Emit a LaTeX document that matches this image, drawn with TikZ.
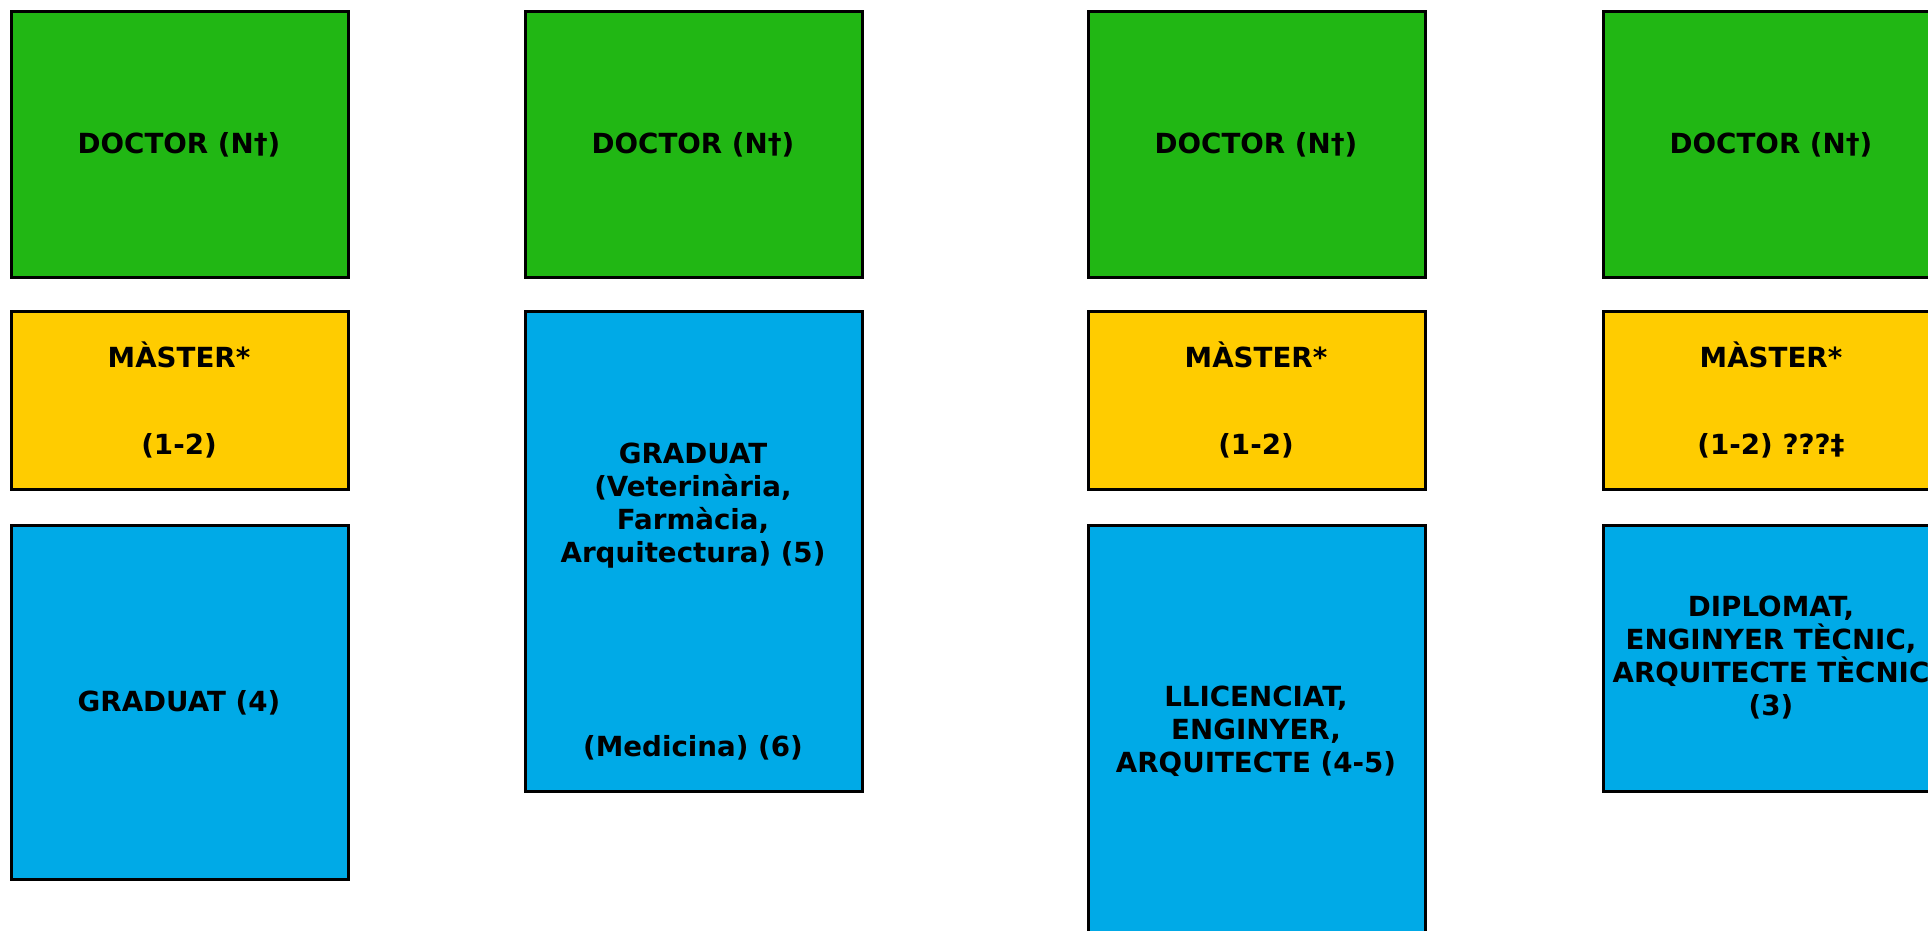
\documentclass[tikz,border=0pt]{standalone}
\usepackage{fontspec}
\setmainfont{DejaVu Sans}
\definecolor{docgreen}{RGB}{33,183,20}
\definecolor{mastyellow}{RGB}{255,204,0}
\definecolor{gradblue}{RGB}{0,170,231}
\tikzset{
  lvlbox/.style={draw=black, line width=1.5pt, anchor=north west, minimum width=168.5pt, inner sep=0pt},
  doctorbox/.style={lvlbox, fill=docgreen, minimum height=133pt},
  masterbox/.style={lvlbox, fill=mastyellow, minimum height=89pt},
  bluebox/.style={lvlbox, fill=gradblue},
  lbl/.style={font=\fontsize{13.85pt}{16.5pt}\selectfont\bfseries, align=center, inner sep=0pt, text=black}
}
\begin{document}
\begin{tikzpicture}[x=0.5pt,y=-0.5pt]
\useasboundingbox (0,0) rectangle (1928,931);
\clip (0,0) rectangle (1928,931);
\fill[white] (0,0) rectangle (1928,931);
% column 1
\node[doctorbox] (d1) at (10,10) {};
\node[masterbox] (m1) at (10,310) {};
\node[bluebox, minimum height=177pt] (g1) at (10,524) {};
% column 2
\node[doctorbox] (d2) at (524,10) {};
\node[bluebox, minimum height=240pt] (g2) at (524,310) {};
% column 3
\node[doctorbox] (d3) at (1087,10) {};
\node[masterbox] (m3) at (1087,310) {};
\node[bluebox, minimum height=220pt] (g3) at (1087,524) {};
% column 4
\node[doctorbox] (d4) at (1602,10) {};
\node[masterbox] (m4) at (1602,310) {};
\node[bluebox, minimum height=133pt] (g4) at (1602,524) {};
% labels
\node[lbl] (td1) at (179,145) {DOCTOR (N†)};
\node[lbl] (td2) at (693,145) {DOCTOR (N†)};
\node[lbl] (td3) at (1256,145) {DOCTOR (N†)};
\node[lbl] (td4) at (1771,145) {DOCTOR (N†)};
\node[lbl] (tm1a) at (179,355) {MÀSTER*};
\node[lbl] (tm1b) at (179,446) {(1-2)};
\node[lbl] (tm3a) at (1256,355) {MÀSTER*};
\node[lbl] (tm3b) at (1256,446) {(1-2)};
\node[lbl] (tm4a) at (1771,355) {MÀSTER*};
\node[lbl] (tm4b) at (1771,446) {(1-2) ???‡};
\node[lbl] (tg1) at (179,703) {GRADUAT (4)};
\node[lbl] (tg2a) at (693,506) {GRADUAT\\ (Veterinària,\\ Farmàcia,\\ Arquitectura) (5)};
\node[lbl] (tg2b) at (693,748) {(Medicina) (6)};
\node[lbl] (tg3) at (1256,731) {LLICENCIAT,\\ ENGINYER,\\ ARQUITECTE (4-5)};
\node[lbl] (tg4) at (1771,658) {DIPLOMAT,\\ ENGINYER TÈCNIC,\\ ARQUITECTE TÈCNIC\\ (3)};
\end{tikzpicture}
\end{document}
